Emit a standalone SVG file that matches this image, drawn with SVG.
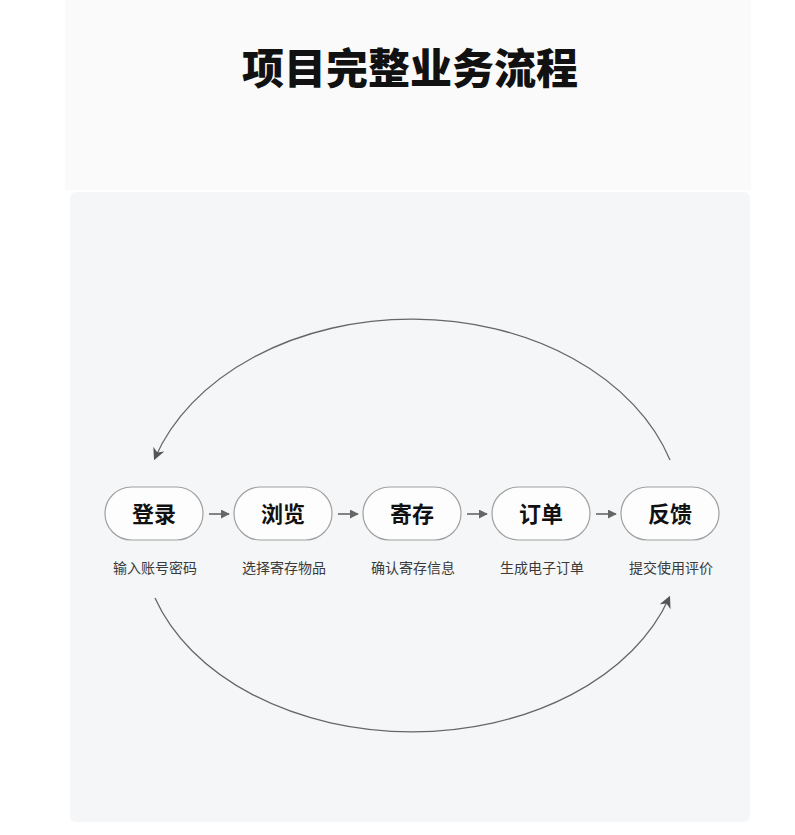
<svg xmlns="http://www.w3.org/2000/svg" width="795" height="835" viewBox="0 0 795 835">
<defs>
<style>
.pill{fill:#fdfdfd;stroke:#a0a0a0;stroke-width:1.2}
.nt{font-family:"Noto Sans CJK SC","Noto Sans",sans-serif;font-size:22px;font-weight:600;fill:#111;text-anchor:middle}
.st{font-family:"Noto Sans CJK SC","Noto Sans",sans-serif;font-size:14px;fill:#3a3a3a;text-anchor:middle}
.arc{fill:none;stroke:#666;stroke-width:1.3}
.sa{fill:none;stroke:#666;stroke-width:1.6}
</style>
<marker id="ah" viewBox="0 0 10 10" refX="8" refY="5" markerWidth="12" markerHeight="12" markerUnits="userSpaceOnUse" orient="auto">
<path d="M0,0 L10,5 L0,10 L3,5 Z" fill="#555"/>
</marker>
<marker id="sm" viewBox="0 0 10 10" refX="9" refY="5" markerWidth="9" markerHeight="9" markerUnits="userSpaceOnUse" orient="auto">
<path d="M0,0 L10,5 L0,10 Z" fill="#666"/>
</marker>
</defs>
<rect x="0" y="0" width="795" height="835" fill="#ffffff"/>
<rect x="65" y="0" width="686" height="190" fill="#fafafa"/>
<rect x="70" y="192" width="680" height="630" rx="6" fill="#f5f6f7"/>
<text x="410" y="84" font-family="Noto Sans CJK SC,Noto Sans,sans-serif" font-size="42" font-weight="900" fill="#111" text-anchor="middle">项目完整业务流程</text>
<g id="connectors">
<path class="arc" d="M670,460 A270,200 0 0 0 155,458" marker-end="url(#ah)"/>
<path class="arc" d="M155,598 A270,193 0 0 0 669,598" marker-end="url(#ah)"/>
<line class="sa" x1="209" y1="514" x2="229" y2="514" marker-end="url(#sm)"/>
<line class="sa" x1="338" y1="514" x2="358" y2="514" marker-end="url(#sm)"/>
<line class="sa" x1="467" y1="514" x2="487" y2="514" marker-end="url(#sm)"/>
<line class="sa" x1="596" y1="514" x2="616" y2="514" marker-end="url(#sm)"/>
</g>
<g id="node-login">
<rect class="pill" x="105" y="487" width="98" height="53" rx="26.5"/>
<text class="nt" x="154" y="522">登录</text>
<text class="st" x="155" y="573">输入账号密码</text>
</g>
<g id="node-browse">
<rect class="pill" x="234" y="487" width="98" height="53" rx="26.5"/>
<text class="nt" x="283" y="522">浏览</text>
<text class="st" x="284" y="573">选择寄存物品</text>
</g>
<g id="node-store">
<rect class="pill" x="363" y="487" width="98" height="53" rx="26.5"/>
<text class="nt" x="412" y="522">寄存</text>
<text class="st" x="413" y="573">确认寄存信息</text>
</g>
<g id="node-order">
<rect class="pill" x="492" y="487" width="98" height="53" rx="26.5"/>
<text class="nt" x="541" y="522">订单</text>
<text class="st" x="542" y="573">生成电子订单</text>
</g>
<g id="node-feedback">
<rect class="pill" x="621" y="487" width="98" height="53" rx="26.5"/>
<text class="nt" x="670" y="522">反馈</text>
<text class="st" x="671" y="573">提交使用评价</text>
</g>
</svg>
